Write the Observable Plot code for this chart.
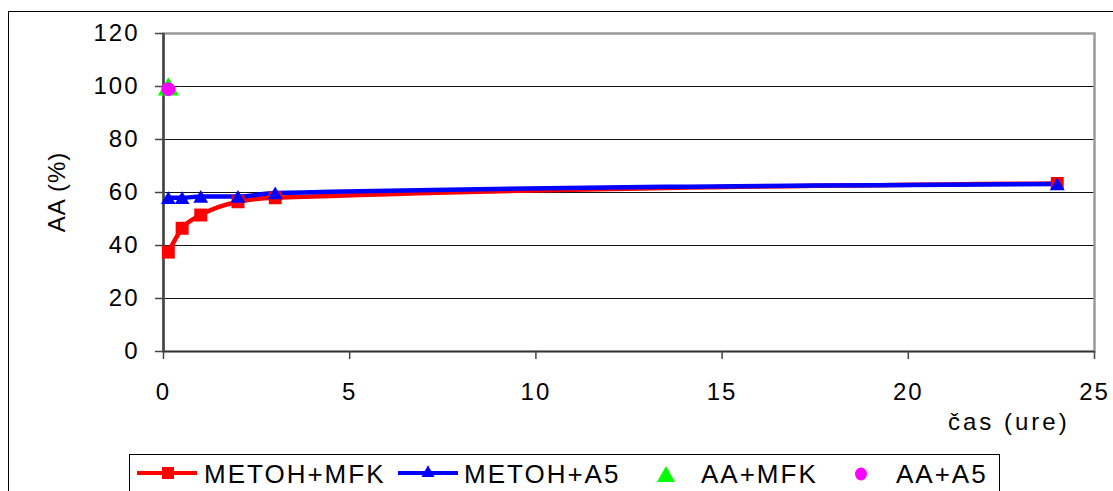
<!DOCTYPE html>
<html><head><meta charset="utf-8">
<script src="https://cdn.jsdelivr.net/npm/d3@7"></script>
<script src="https://cdn.jsdelivr.net/npm/@observablehq/plot@0.6"></script>
<style>
body{margin:0;background:#fff;}
#wrap{position:relative;width:1113px;height:491px;overflow:hidden;font-family:"Liberation Sans",Arial,sans-serif;background:#fff;}
#frame{position:absolute;left:8px;top:11px;width:1300px;height:700px;border:1.5px solid #000;}
#chart{position:absolute;left:0;top:0;}
.lab{position:absolute;font-size:24px;line-height:24px;color:#000;white-space:nowrap;}
#ylab{left:57px;top:192px;transform:translate(-50%,-50%) rotate(-90deg);letter-spacing:1px;}
#xlab{left:948px;top:410px;letter-spacing:3px;}
#legend{position:absolute;left:129px;top:454px;width:869px;height:60px;border:1px solid #000;background:#fff;}
#legend svg{position:absolute;left:0;top:0;}
</style></head><body>
<div id="wrap"><div id="frame"></div><div id="chart"></div>
<div class="lab" id="ylab">AA (%)</div>
<div class="lab" id="xlab">čas (ure)</div>
<div id="legend"></div></div>
<script>
const hours = [0.13, 0.5, 1, 2, 3, 24];
const metohMfk = [37.5, 46.5, 51.5, 56.5, 58, 63.4];
const metohA5 = [58, 58, 58.5, 58.5, 59.8, 63.2];
const aaHours = [0.13];
const aaMfk = [100];
const aaA5 = [99];
const xTicks = [0, 5, 10, 15, 20, 25];
const yTicks = [0, 20, 40, 60, 80, 100, 120];
const seriesNames = ["METOH+MFK", "METOH+A5", "AA+MFK", "AA+A5"];
const colors = ["#ff0000", "#0000ff", "#00ff00", "#ff00ff"];

const red = hours.map((h, i) => ({x: h, y: metohMfk[i]}));
const blue = hours.map((h, i) => ({x: h, y: metohA5[i]}));
const green = aaHours.map((h, i) => ({x: h, y: aaMfk[i]}));
const pink = aaHours.map((h, i) => ({x: h, y: aaA5[i]}));

const chart = Plot.plot({
  width: 1113, height: 440,
  marginLeft: 163, marginRight: 19, marginTop: 33, marginBottom: 89,
  x: {domain: [xTicks[0], xTicks[xTicks.length - 1]]},
  y: {domain: [yTicks[0], yTicks[yTicks.length - 1]]},
  style: {fontSize: "24px", fontFamily: '"Liberation Sans",Arial,sans-serif', letterSpacing: "2px", background: "transparent", color: "#000"},
  marks: [
    Plot.gridY(yTicks.slice(1, -1), {stroke: "#111", strokeOpacity: 1, strokeWidth: 1.2}),
    Plot.frame({stroke: "#999", strokeWidth: 2.5}),
    Plot.ruleY([yTicks[0]], {stroke: "#333", strokeWidth: 1.5}),
    Plot.ruleX([xTicks[0]], {stroke: "#444", strokeWidth: 2.5}),
    Plot.axisX(xTicks, {tickSize: 8, tickPadding: 23, label: null, stroke: "#444", strokeWidth: 1.5, fill: "#000"}),
    Plot.axisY(yTicks, {tickSize: 8, tickPadding: 16, label: null, stroke: "#444", strokeWidth: 1.5, fill: "#000"}),
    Plot.line(red, {x: "x", y: "y", stroke: colors[0], strokeWidth: 4.5, curve: "monotone-x"}),
    Plot.line(blue, {x: "x", y: "y", stroke: colors[1], strokeWidth: 4.5, curve: "monotone-x"}),
    Plot.dot(red, {x: "x", y: "y", symbol: "square", r: 7.3, fill: colors[0], stroke: "none"}),
    Plot.dot(blue, {x: "x", y: "y", symbol: "triangle", r: 5.5, dy: 2, fill: colors[1], stroke: "none"}),
    Plot.dot(green, {x: "x", y: "y", symbol: "triangle", r: 7.8, dy: 3, fill: colors[2], stroke: "none"}),
    Plot.dot(pink, {x: "x", y: "y", symbol: "circle", r: 7, fill: colors[3], stroke: "none"})
  ]
});
document.getElementById("chart").appendChild(chart);

// legend
const ns = "http://www.w3.org/2000/svg";
const lg = document.createElementNS(ns, "svg");
lg.setAttribute("width", 869); lg.setAttribute("height", 60);
const items = [
  {line: [7, 67], sym: "square", cx: 38, tx: 74, size: 12},
  {line: [268, 328], sym: "triangle", cx: 298, tx: 334, size: 13},
  {line: null, sym: "triangle", cx: 536, tx: 571, size: 18},
  {line: null, sym: "circle", cx: 731, tx: 766, size: 12}
];
const cy = 18;
items.forEach((it, i) => {
  if (it.line) {
    const l = document.createElementNS(ns, "line");
    l.setAttribute("x1", it.line[0]); l.setAttribute("x2", it.line[1]);
    l.setAttribute("y1", cy); l.setAttribute("y2", cy);
    l.setAttribute("stroke", colors[i]); l.setAttribute("stroke-width", 4);
    lg.appendChild(l);
  }
  const s = it.size;
  let el;
  if (it.sym === "square") {
    el = document.createElementNS(ns, "rect");
    el.setAttribute("x", it.cx - s / 2); el.setAttribute("y", cy - s / 2);
    el.setAttribute("width", s); el.setAttribute("height", s);
  } else if (it.sym === "triangle") {
    el = document.createElementNS(ns, "polygon");
    const h = s * 0.9;
    const base = i === 1 ? cy + 4 : cy + h / 2 + 1;
    el.setAttribute("points", `${it.cx - s / 2},${base} ${it.cx + s / 2},${base} ${it.cx},${base - h}`);
  } else {
    el = document.createElementNS(ns, "ellipse");
    el.setAttribute("cx", it.cx); el.setAttribute("cy", cy + 1);
    el.setAttribute("rx", 6); el.setAttribute("ry", 6.5);
  }
  el.setAttribute("fill", colors[i]);
  lg.appendChild(el);
  const t = document.createElementNS(ns, "text");
  t.setAttribute("x", it.tx); t.setAttribute("y", 28);
  t.setAttribute("font-size", 26);
  t.setAttribute("letter-spacing", "2px");
  t.setAttribute("font-family", '"Liberation Sans",Arial,sans-serif');
  t.textContent = seriesNames[i];
  lg.appendChild(t);
});
document.getElementById("legend").appendChild(lg);
</script>
</body></html>
